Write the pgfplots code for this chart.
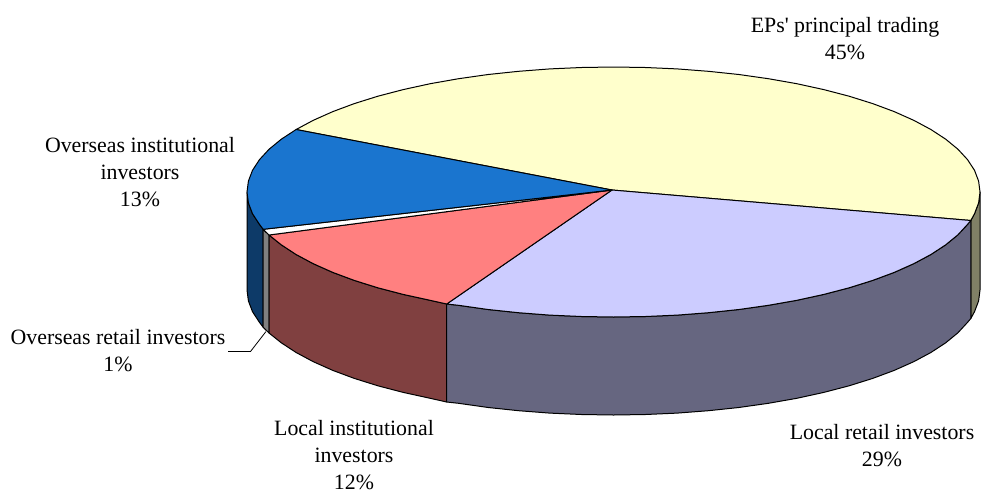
\documentclass[border=0pt]{standalone}
\usepackage{pgfplots}
\pgfplotsset{compat=1.18}
\usepackage{fontspec}
\setmainfont{Liberation Serif}
\newfontfamily\plainserif{Liberation Serif}
\definecolor{yellowtop}{HTML}{FFFFCC}
\definecolor{yellowside}{HTML}{808066}
\definecolor{lavtop}{HTML}{CCCCFF}
\definecolor{lavside}{HTML}{666680}
\definecolor{redtop}{HTML}{FF8080}
\definecolor{redside}{HTML}{804040}
\definecolor{bluetop}{HTML}{1A75CF}
\definecolor{blueside}{HTML}{0D3A68}
\tikzset{lab/.style={font=\fontsize{21.85}{27}\selectfont, align=center, inner sep=0pt}}
\begin{document}
\begin{tikzpicture}
\begin{axis}[
  scale only axis, width=981pt, height=493pt,
  xmin=0, xmax=981, ymin=0, ymax=493, y dir=reverse,
  hide axis, clip=false, no marks,
  every axis plot/.append style={draw=black, line width=1pt, line join=round},
]
% page extent
\addplot[draw=none] coordinates {(0,0) (981,493)};

% rim of the disc, back to front
\addplot[fill=yellowside] coordinates {(970.8,220.5) (974.5,213.7) (978.6,202.9) (980,192) (980,290) (978.6,300.9) (974.5,311.7) (970.8,318.5)} -- cycle;
\addplot[fill=blueside] coordinates {(247,192) (248.4,202.9) (252.5,213.7) (259.5,224.4) (263.2,229.3) (263.2,327.3) (259.5,322.4) (252.5,311.7) (248.4,300.9) (247,290)} -- cycle;
\addplot[fill=gray] coordinates {(263.2,229.3) (269,235) (269,333) (263.2,327.3)} -- cycle;
\addplot[fill=redside] coordinates {(269,235) (281.3,244.8) (296.1,254.5) (313.3,263.7) (332.8,272.4) (354.3,280.4) (377.9,287.8) (403.2,294.4) (430.2,300.3) (446.7,304)
  (446.7,402) (430.2,398.3) (403.2,392.4) (377.9,385.8) (354.3,378.4) (332.8,370.4) (313.3,361.7) (296.1,352.5) (281.3,342.8) (269,333)} -- cycle;
\addplot[fill=lavside] coordinates {(446.7,304) (458.6,305.3) (488.2,309.5) (518.6,312.7) (549.8,315.1) (581.6,316.5) (613.5,317) (645.4,316.5) (677.2,315.1) (708.4,312.7) (738.8,309.5) (768.4,305.3) (796.8,300.3) (823.8,294.4) (849.1,287.8) (872.7,280.4) (894.2,272.4) (913.7,263.7) (930.9,254.5) (945.7,244.8) (957.9,234.8) (967.5,224.4) (970.8,220.5)
  (970.8,318.5) (967.5,322.4) (957.9,332.8) (945.7,342.8) (930.9,352.5) (913.7,361.7) (894.2,370.4) (872.7,378.4) (849.1,385.8) (823.8,392.4) (796.8,398.3) (768.4,403.3) (738.8,407.5) (708.4,410.7) (677.2,413.1) (645.4,414.5) (613.5,415) (581.6,414.5) (549.8,413.1) (518.6,410.7) (488.2,407.5) (458.6,403.3) (446.7,402)} -- cycle;

% top face, one wedge per investor group
\addplot[fill=yellowtop] coordinates {(612,190) (970.8,220.5) (974.5,213.7) (978.6,202.9) (980,192) (978.6,181.1) (974.5,170.3) (967.5,159.6) (957.9,149.2) (945.7,139.2) (930.9,129.5) (913.7,120.3) (894.2,111.6) (872.7,103.6) (849.1,96.2) (823.8,89.6) (796.8,83.7) (768.4,78.7) (738.8,74.5) (708.4,71.3) (677.2,68.9) (645.4,67.5) (613.5,67) (581.6,67.5) (549.8,68.9) (518.6,71.3) (488.2,74.5) (458.6,78.7) (430.2,83.7) (403.2,89.6) (377.9,96.2) (354.3,103.6) (332.8,111.6) (313.3,120.3) (296.1,129.5)} -- cycle;
\addplot[fill=lavtop] coordinates {(612,190) (446.7,304) (458.6,305.3) (488.2,309.5) (518.6,312.7) (549.8,315.1) (581.6,316.5) (613.5,317) (645.4,316.5) (677.2,315.1) (708.4,312.7) (738.8,309.5) (768.4,305.3) (796.8,300.3) (823.8,294.4) (849.1,287.8) (872.7,280.4) (894.2,272.4) (913.7,263.7) (930.9,254.5) (945.7,244.8) (957.9,234.8) (967.5,224.4) (970.8,220.5)} -- cycle;
\addplot[fill=redtop] coordinates {(612,190) (269,235) (281.3,244.8) (296.1,254.5) (313.3,263.7) (332.8,272.4) (354.3,280.4) (377.9,287.8) (403.2,294.4) (430.2,300.3) (446.7,304)} -- cycle;
\addplot[fill=white] coordinates {(612,190) (263.2,229.3) (269,235)} -- cycle;
\addplot[fill=bluetop] coordinates {(612,190) (296.1,129.5) (281.3,139.2) (269.1,149.2) (259.5,159.6) (252.5,170.3) (248.4,181.1) (247,192) (248.4,202.9) (252.5,213.7) (259.5,224.4) (263.2,229.3)} -- cycle;

% leader to the smallest group
\addplot[line width=0.8pt] coordinates {(228,351.5) (250.5,351.5) (266,331.5)};

\node[lab] at (axis cs:845,39) {{\plainserif EPs' principal trading}\\45\%};
\node[lab] at (axis cs:140,172.5) {Overseas institutional\\investors\\13\%};
\node[lab] at (axis cs:118,351) {Overseas retail investors\\1\%};
\node[lab] at (axis cs:354,455) {Local institutional\\investors\\12\%};
\node[lab] at (axis cs:882,446) {Local retail investors\\29\%};
\end{axis}
\end{tikzpicture}
\end{document}
